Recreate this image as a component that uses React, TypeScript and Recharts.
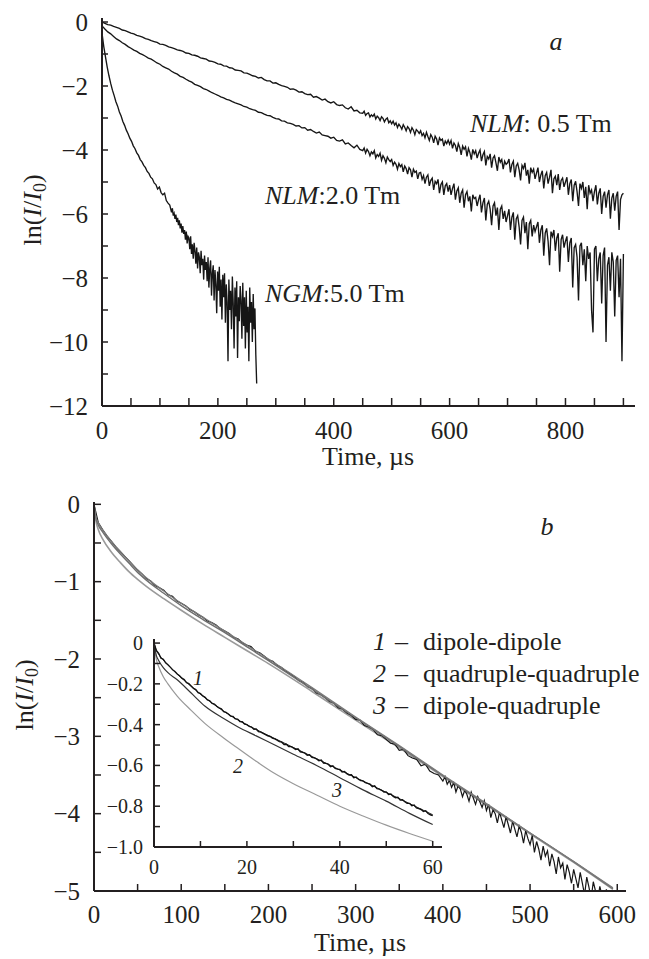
import { LineChart, Line, XAxis, YAxis } from 'recharts'

// ---- panel a: ln(I/I0) decays
// head parts every 5 us (NGM every 3 us), noisy tails sampled finer
const stepA = 5
const tailStartA = 450
const tailStepA = 2.5

const nlm05 = [
  0.00, -0.04, -0.08, -0.10, -0.14, -0.17, -0.20, -0.25, -0.27, -0.31,
  -0.35, -0.37, -0.42, -0.44, -0.47, -0.52, -0.54, -0.58, -0.61, -0.64,
  -0.69, -0.70, -0.73, -0.78, -0.80, -0.83, -0.87, -0.89, -0.92, -0.97,
  -0.98, -1.03, -1.04, -1.07, -1.12, -1.14, -1.16, -1.22, -1.23, -1.26,
  -1.31, -1.32, -1.37, -1.38, -1.43, -1.44, -1.50, -1.51, -1.53, -1.59,
  -1.60, -1.64, -1.68, -1.70, -1.75, -1.73, -1.80, -1.84, -1.84, -1.91,
  -1.90, -1.95, -1.99, -2.01, -2.04, -2.10, -2.09, -2.13, -2.19, -2.18,
  -2.24, -2.27, -2.26, -2.35, -2.33, -2.38, -2.44, -2.41, -2.49, -2.53,
  -2.49, -2.58, -2.61, -2.59, -2.68, -2.72, -2.65, -2.78, -2.76, -2.84,
]
const nlm05Tail = [
  -2.85, -2.79, -2.92, -2.86, -2.84, -2.97, -2.90, -2.95, -2.88, -3.03, -2.94, -2.99, -3.08, -2.96, -3.01, -3.12, -3.04, -3.00, -3.15, -3.09,
  -3.18, -3.10, -3.22, -3.15, -3.30, -3.19, -3.26, -3.35, -3.21, -3.29, -3.40, -3.27, -3.33, -3.45, -3.30, -3.38, -3.52, -3.36, -3.41, -3.48,
  -3.40, -3.55, -3.48, -3.62, -3.45, -3.58, -3.70, -3.52, -3.60, -3.78, -3.57, -3.65, -3.85, -3.62, -3.70, -3.66, -3.88, -3.72, -3.80, -3.69,
  -3.82, -3.70, -3.95, -3.78, -3.86, -4.05, -3.80, -3.92, -4.15, -3.88, -3.98, -3.90, -4.20, -3.95, -4.08, -4.30, -3.98, -4.12, -4.02, -4.25,
  -4.10, -4.00, -4.35, -4.15, -4.05, -4.48, -4.20, -4.28, -4.12, -4.55, -4.25, -4.18, -4.40, -4.65, -4.22, -4.38, -4.30, -4.60, -4.35, -4.45,
  -4.40, -4.28, -4.70, -4.45, -4.35, -4.85, -4.50, -4.42, -4.62, -4.95, -4.48, -4.58, -4.40, -4.80, -4.62, -5.05, -4.55, -4.70, -4.60, -4.90,
  -4.72, -4.55, -5.00, -4.78, -4.65, -5.20, -4.80, -4.70, -5.05, -4.85, -4.62, -5.35, -4.90, -4.82, -5.10, -4.75, -5.25, -4.95, -4.88, -5.15,
  -5.00, -4.85, -5.40, -5.05, -4.92, -5.60, -5.10, -4.98, -5.30, -5.75, -5.05, -5.20, -5.00, -5.50, -5.15, -5.85, -5.10, -5.35, -5.25, -5.60,
  -5.30, -5.10, -5.70, -5.35, -5.20, -6.00, -5.45, -5.30, -5.80, -5.40, -5.25, -6.15, -5.50, -5.35, -5.90, -5.45, -5.30, -6.50, -5.55, -5.40,
  -5.35,
]

const nlm20 = [
  -0.12, -0.22, -0.31, -0.37, -0.45, -0.53, -0.58, -0.65, -0.70, -0.77,
  -0.82, -0.88, -0.92, -0.98, -1.02, -1.07, -1.13, -1.16, -1.22, -1.28,
  -1.32, -1.39, -1.43, -1.47, -1.54, -1.59, -1.63, -1.70, -1.73, -1.79,
  -1.84, -1.88, -1.95, -1.98, -2.02, -2.08, -2.11, -2.16, -2.21, -2.25,
  -2.29, -2.34, -2.37, -2.42, -2.44, -2.49, -2.53, -2.56, -2.59, -2.64,
  -2.66, -2.71, -2.74, -2.76, -2.82, -2.83, -2.88, -2.92, -2.93, -2.98,
  -3.02, -3.03, -3.09, -3.10, -3.15, -3.17, -3.20, -3.25, -3.24, -3.31,
  -3.30, -3.38, -3.36, -3.42, -3.47, -3.44, -3.53, -3.55, -3.57, -3.63,
  -3.60, -3.70, -3.72, -3.68, -3.81, -3.78, -3.86, -3.93, -3.85, -3.98,
]
const nlm20Tail = [
  -4.02, -3.94, -4.10, -3.98, -4.05, -4.18, -4.06, -4.12, -4.02, -4.25, -4.14, -4.20, -4.10, -4.32, -4.18, -4.26, -4.40, -4.22, -4.30, -4.36,
  -4.30, -4.48, -4.38, -4.45, -4.60, -4.42, -4.52, -4.46, -4.68, -4.50, -4.58, -4.75, -4.55, -4.62, -4.85, -4.60, -4.70, -4.66, -4.90, -4.72,
  -4.70, -4.92, -4.80, -5.05, -4.85, -4.78, -5.12, -4.95, -4.88, -5.25, -4.98, -5.05, -4.92, -5.35, -5.08, -5.00, -5.40, -5.12, -5.05, -5.30,
  -5.10, -5.40, -5.20, -5.05, -5.55, -5.28, -5.18, -5.65, -5.35, -5.25, -5.80, -5.40, -5.30, -5.60, -5.45, -5.92, -5.40, -5.52, -5.48, -5.75,
  -5.55, -5.40, -5.95, -5.65, -5.50, -6.20, -5.70, -5.60, -5.85, -6.35, -5.75, -5.65, -6.05, -5.80, -6.50, -5.85, -5.75, -6.15, -5.90, -6.25,
  -6.05, -5.85, -6.50, -6.10, -5.95, -6.80, -6.15, -6.05, -6.40, -6.95, -6.20, -6.10, -6.60, -6.25, -7.10, -6.30, -6.20, -6.70, -6.35, -6.55,
  -6.40, -6.25, -6.90, -6.50, -6.35, -7.30, -6.60, -6.45, -6.85, -7.60, -6.55, -6.70, -6.50, -7.15, -6.75, -6.60, -7.80, -6.80, -6.65, -7.05,
  -6.85, -6.70, -7.50, -6.90, -6.75, -8.30, -7.05, -6.95, -7.35, -8.70, -7.00, -6.90, -7.60, -7.10, -8.10, -7.00, -7.40, -7.20, -9.00, -9.70,
  -7.10, -7.00, -8.10, -7.40, -7.20, -8.80, -7.30, -7.05, -10.00, -7.60, -7.35, -8.40, -7.20, -7.50, -9.20, -7.45, -7.30, -8.60, -7.40, -10.60,
  -7.25,
]

const stepNgm = 3
const tailStartNgm = 120
const tailStepNgm = 1.5
const ngm50 = [
  -0.35, -0.76, -1.09, -1.41, -1.68, -1.92, -2.13, -2.30, -2.49, -2.63,
  -2.81, -2.94, -3.11, -3.23, -3.38, -3.49, -3.63, -3.73, -3.87, -3.96,
  -4.09, -4.17, -4.30, -4.37, -4.48, -4.55, -4.67, -4.73, -4.85, -4.90,
  -5.03, -5.08, -5.22, -5.16, -5.33, -5.40, -5.35, -5.58, -5.66, -5.72,
]
const ngm50Tail = [
  -5.95, -5.82, -6.05, -5.98, -6.15, -6.02, -6.25, -6.12, -6.35, -6.20, -6.45, -6.30, -6.58, -6.38, -6.62, -6.50, -6.80, -6.55, -6.92, -6.70,
  -6.75, -7.10, -6.70, -7.25, -6.95, -7.40, -6.90, -7.15, -7.55, -7.05, -7.70, -7.20, -7.35, -7.85, -7.15, -7.60, -7.40, -8.05, -7.30, -7.75,
  -7.50, -8.10, -7.35, -8.30, -7.70, -7.45, -8.55, -7.85, -7.60, -8.70, -7.75, -8.20, -9.10, -7.80, -8.40, -7.65, -8.90, -8.05, -9.30, -7.90,
  -8.60, -7.85, -9.40, -8.20, -8.75, -10.60, -8.05, -9.00, -8.40, -9.60, -7.95, -8.80, -10.20, -8.30, -9.20, -8.10, -10.50, -8.60, -9.35, -8.25,
  -8.70, -9.90, -8.15, -9.50, -8.60, -10.20, -8.40, -9.70, -8.90, -10.60, -8.30, -9.40, -8.75, -10.00, -8.50, -9.60, -8.95, -10.40, -11.30,
]

// ---- panel b: measured decay and the three model fits
const stepB = 5
const tailStartB = 400
const tailStepB = 2.5
const decayB = [
  0.00, -0.24, -0.33, -0.41, -0.48, -0.55, -0.61, -0.67, -0.73, -0.79,
  -0.85, -0.90, -0.96, -0.99, -1.05, -1.08, -1.11, -1.17, -1.19, -1.25,
  -1.28, -1.31, -1.36, -1.39, -1.43, -1.46, -1.51, -1.53, -1.56, -1.61,
  -1.64, -1.67, -1.72, -1.74, -1.79, -1.82, -1.84, -1.90, -1.92, -1.96,
  -2.01, -2.03, -2.08, -2.11, -2.16, -2.19, -2.23, -2.28, -2.30, -2.36,
  -2.38, -2.44, -2.46, -2.50, -2.55, -2.57, -2.63, -2.65, -2.70, -2.73,
  -2.78, -2.79, -2.86, -2.88, -2.91, -2.98, -2.99, -3.04, -3.09, -3.10,
  -3.18, -3.17, -3.25, -3.28, -3.30, -3.38, -3.36, -3.45, -3.48, -3.50,
]
const decayBTail = [
  -3.58, -3.52, -3.62, -3.57, -3.66, -3.60, -3.72, -3.64, -3.68, -3.78, -3.70, -3.75, -3.84, -3.72, -3.80, -3.88, -3.78, -3.85, -3.92, -3.83,
  -3.96, -3.88, -4.05, -3.95, -4.00, -4.12, -3.98, -4.08, -4.18, -4.04, -4.14, -4.25, -4.10, -4.20, -4.30, -4.16, -4.24, -4.38, -4.22, -4.32,
  -4.40, -4.28, -4.50, -4.36, -4.46, -4.60, -4.42, -4.55, -4.48, -4.68, -4.52, -4.62, -4.78, -4.56, -4.70, -4.64, -4.85, -4.66, -4.76, -4.90,
  -4.72, -4.84, -4.96, -4.76, -4.90, -5.05, -4.82, -4.95, -5.10, -4.88, -5.00, -5.12, -4.94, -5.06, -5.15, -4.98, -5.10,
]

const fitTimeB = [0, 2, 5, 10, 20, 30, 40, 50, 60, 80, 100, 125, 150, 175, 200, 250, 300, 350, 400, 450, 500, 550, 595]
const fitDipDip = [0, -0.15, -0.24, -0.33, -0.48, -0.61, -0.73, -0.85, -0.95, -1.12, -1.28, -1.46, -1.64, -1.82, -2.0, -2.37, -2.75, -3.12, -3.5, -3.87, -4.25, -4.62, -4.96]
const fitQuadQuad = [0, -0.2, -0.33, -0.45, -0.62, -0.75, -0.87, -0.97, -1.06, -1.22, -1.37, -1.55, -1.72, -1.89, -2.06, -2.42, -2.79, -3.15, -3.52, -3.89, -4.26, -4.63, -4.98]
const fitDipQuad = [0, -0.17, -0.27, -0.36, -0.51, -0.64, -0.76, -0.88, -0.98, -1.15, -1.31, -1.49, -1.66, -1.84, -2.02, -2.39, -2.76, -3.13, -3.51, -3.88, -4.25, -4.62, -4.97]

// ---- inset: first 60 us, every 0.5 us
const stepInset = 0.5
const insetDecay = [
  0.000, -0.036, -0.050, -0.074, -0.079, -0.097, -0.106, -0.118, -0.131, -0.139,
  -0.152, -0.160, -0.172, -0.179, -0.194, -0.199, -0.210, -0.222, -0.228, -0.243,
  -0.248, -0.259, -0.266, -0.279, -0.283, -0.296, -0.299, -0.310, -0.318, -0.322,
  -0.336, -0.340, -0.348, -0.358, -0.360, -0.372, -0.373, -0.385, -0.386, -0.397,
  -0.400, -0.409, -0.412, -0.423, -0.421, -0.434, -0.437, -0.443, -0.449, -0.455,
  -0.458, -0.466, -0.470, -0.476, -0.483, -0.486, -0.497, -0.496, -0.507, -0.508,
  -0.514, -0.522, -0.519, -0.533, -0.536, -0.540, -0.550, -0.548, -0.561, -0.563,
  -0.568, -0.577, -0.574, -0.588, -0.590, -0.594, -0.606, -0.602, -0.615, -0.618,
  -0.620, -0.632, -0.630, -0.640, -0.647, -0.646, -0.660, -0.657, -0.668, -0.674,
  -0.676, -0.684, -0.688, -0.692, -0.704, -0.700, -0.714, -0.716, -0.722, -0.731,
  -0.730, -0.742, -0.740, -0.752, -0.758, -0.756, -0.770, -0.768, -0.778, -0.786,
  -0.786, -0.797, -0.794, -0.808, -0.812, -0.816, -0.826, -0.822, -0.836, -0.842,
  -0.846,
]
const fitTimeInset = [0, 0.5, 1, 2, 3, 5, 8, 11, 15, 18, 22, 26, 30, 35, 40, 45, 50, 55, 60]
const insetDipDip = [0, -0.035, -0.055, -0.083, -0.107, -0.152, -0.212, -0.268, -0.334, -0.376, -0.424, -0.468, -0.512, -0.567, -0.622, -0.677, -0.732, -0.787, -0.842]
const insetDipQuad = [0, -0.06, -0.085, -0.12, -0.145, -0.18, -0.245, -0.31, -0.37, -0.41, -0.455, -0.5, -0.545, -0.6, -0.66, -0.72, -0.775, -0.835, -0.89]
const insetQuadQuad = [0, -0.08, -0.115, -0.165, -0.2, -0.26, -0.33, -0.395, -0.465, -0.515, -0.58, -0.64, -0.69, -0.745, -0.8, -0.848, -0.893, -0.934, -0.972]

// ticks
const xTicksA = [0, 50, 100, 150, 200, 250, 300, 350, 400, 450, 500, 550, 600, 650, 700, 750, 800, 850, 900]
const xLabelsA = [0, 200, 400, 600, 800]
const yTicksA = [0, -1, -2, -3, -4, -5, -6, -7, -8, -9, -10, -11, -12]
const yLabelsA = [0, -2, -4, -6, -8, -10, -12]
const xTicksB = [0, 50, 100, 150, 200, 250, 300, 350, 400, 450, 500, 550, 600]
const xLabelsB = [0, 100, 200, 300, 400, 500, 600]
const yTicksB = [0, -0.5, -1, -1.5, -2, -2.5, -3, -3.5, -4, -4.5, -5]
const yLabelsB = [0, -1, -2, -3, -4, -5]
const xTicksI = [0, 10, 20, 30, 40, 50, 60]
const xLabelsI = [0, 20, 40, 60]
const yTicksI = [0, -0.1, -0.2, -0.3, -0.4, -0.5, -0.6, -0.7, -0.8, -0.9, -1]
const yLabelsI = [0, -0.2, -0.4, -0.6, -0.8, -1]

const FONT = "'Liberation Serif', 'Times New Roman', serif"
const INK = '#231f20'

const toSeries = (vals: number[], step: number, start = 0) => vals.map((v, i) => ({ t: start + i * step, v }))
const pair = (ts: number[], vs: number[]) => ts.map((t, i) => ({ t, v: vs[i] }))

const seriesA05 = [...toSeries(nlm05, stepA), ...toSeries(nlm05Tail, tailStepA, tailStartA)]
const seriesA20 = [...toSeries(nlm20, stepA), ...toSeries(nlm20Tail, tailStepA, tailStartA)]
const seriesA50 = [...toSeries(ngm50, stepNgm), ...toSeries(ngm50Tail, tailStepNgm, tailStartNgm)]
const seriesB = [...toSeries(decayB, stepB), ...toSeries(decayBTail, tailStepB, tailStartB)]

const fmt = (v: number, digits = 0) => {
  if (v === 0) return '0'
  const s = Math.abs(v).toFixed(digits)
  return v < 0 ? '\u2212' + s : s
}

// inward ticks, labels only on the listed values
const xTick = (labels: number[], len: number, size: number, gap: number) => (props: any) => {
  const { x, y, payload } = props
  return (
    <g>
      <line x1={x} y1={y} x2={x} y2={y - len} stroke={INK} strokeWidth={1.5} />
      {labels.includes(payload.value) && (
        <text x={x} y={y + gap} textAnchor="middle" fontSize={size} fontFamily={FONT} fill={INK}>
          {fmt(payload.value)}
        </text>
      )}
    </g>
  )
}

const yTick = (labels: number[], len: number, size: number, gap: number, digits = 0) => (props: any) => {
  const { x, y, payload } = props
  return (
    <g>
      <line x1={x} y1={y} x2={x + len} y2={y} stroke={INK} strokeWidth={1.5} />
      {labels.includes(payload.value) && (
        <text x={x - gap} y={y} dy="0.35em" textAnchor="end" fontSize={size} fontFamily={FONT} fill={INK}>
          {fmt(payload.value, digits)}
        </text>
      )}
    </g>
  )
}

const axisLine = { stroke: INK, strokeWidth: 2 }

const yLabel = (x: number, y: number) => (
  <text transform={`translate(${x},${y}) rotate(-90)`} textAnchor="middle" fontSize={26}>
    ln(<tspan fontStyle="italic">I</tspan>/<tspan fontStyle="italic">I</tspan>
    <tspan fontSize={18} dy={5}>0</tspan><tspan dy={-5}>)</tspan>
  </text>
)

export default function App() {
  return (
    <div style={{ position: 'absolute', left: 0, top: 0, width: 649, height: 959, background: '#fff' }}>
      <div style={{ position: 'absolute', left: 0, top: 0 }}>
        <LineChart width={649} height={480} margin={{ top: 18, right: 14, bottom: 73, left: 101 }}>
          <XAxis type="number" dataKey="t" domain={[0, 920]} ticks={xTicksA} interval={0} height={1}
            tickSize={0} tickMargin={0} tickLine={false} axisLine={axisLine} tick={xTick(xLabelsA, 8, 25, 33)} />
          <YAxis type="number" domain={[-12, 0.125]} ticks={yTicksA} interval={0} width={1} allowDataOverflow
            tickSize={0} tickMargin={0} tickLine={false} axisLine={axisLine} tick={yTick(yLabelsA, 6, 25, 14)} />
          <Line data={seriesA05} dataKey="v" type="linear" stroke="#161616" strokeWidth={1.35} dot={false} isAnimationActive={false} />
          <Line data={seriesA20} dataKey="v" type="linear" stroke="#161616" strokeWidth={1.35} dot={false} isAnimationActive={false} />
          <Line data={seriesA50} dataKey="v" type="linear" stroke="#161616" strokeWidth={1.35} dot={false} isAnimationActive={false} />
        </LineChart>
      </div>

      <div style={{ position: 'absolute', left: 0, top: 480 }}>
        <LineChart width={649} height={479} margin={{ top: 22, right: 23, bottom: 67, left: 93 }}>
          <XAxis type="number" dataKey="t" domain={[0, 610]} ticks={xTicksB} interval={0} height={1}
            tickSize={0} tickMargin={0} tickLine={false} axisLine={axisLine} tick={xTick(xLabelsB, 7, 25, 32)} />
          <YAxis type="number" domain={[-5, 0.03]} ticks={yTicksB} interval={0} width={1} allowDataOverflow
            tickSize={0} tickMargin={0} tickLine={false} axisLine={axisLine} tick={yTick(yLabelsB, 7, 25, 14)} />
          <Line data={pair(fitTimeB, fitQuadQuad)} dataKey="v" type="monotone" stroke="#9a9a9a" strokeWidth={1.6} dot={false} isAnimationActive={false} />
          <Line data={seriesB} dataKey="v" type="linear" stroke="#161616" strokeWidth={1.2} dot={false} isAnimationActive={false} />
          <Line data={pair(fitTimeB, fitDipQuad)} dataKey="v" type="monotone" stroke="#6e6e6e" strokeWidth={1.4} dot={false} isAnimationActive={false} />
          <Line data={pair(fitTimeB, fitDipDip)} dataKey="v" type="monotone" stroke="#7a7a7a" strokeWidth={1.3} dot={false} isAnimationActive={false} />
        </LineChart>
      </div>

      <div style={{ position: 'absolute', left: 100, top: 600 }}>
        <LineChart width={360} height={300} margin={{ top: 39, right: 18, bottom: 52, left: 53 }}>
          <XAxis type="number" dataKey="t" domain={[0, 62]} ticks={xTicksI} interval={0} height={1}
            tickSize={0} tickMargin={0} tickLine={false} axisLine={axisLine} tick={xTick(xLabelsI, 6, 20, 27)} />
          <YAxis type="number" domain={[-1, 0.02]} ticks={yTicksI} interval={0} width={1} allowDataOverflow
            tickSize={0} tickMargin={0} tickLine={false} axisLine={axisLine} tick={yTick(yLabelsI, 6, 20, 11, 1)} />
          <Line data={pair(fitTimeInset, insetQuadQuad)} dataKey="v" type="monotone" stroke="#999" strokeWidth={1.2} dot={false} isAnimationActive={false} />
          <Line data={pair(fitTimeInset, insetDipQuad)} dataKey="v" type="monotone" stroke="#333" strokeWidth={1.2} dot={false} isAnimationActive={false} />
          <Line data={pair(fitTimeInset, insetDipDip)} dataKey="v" type="monotone" stroke="#222" strokeWidth={1} dot={false} isAnimationActive={false} />
          <Line data={toSeries(insetDecay, stepInset)} dataKey="v" type="linear" stroke="#111" strokeWidth={1.4} dot={false} isAnimationActive={false} />
        </LineChart>
      </div>

      <svg width={649} height={959} style={{ position: 'absolute', left: 0, top: 0, pointerEvents: 'none' }}
        fontFamily={FONT} fill={INK}>
        {/* panel a */}
        <text x={556} y={50} fontSize={26} fontStyle="italic" textAnchor="middle">a</text>
        <text x={470} y={132} fontSize={26}><tspan fontStyle="italic">NLM</tspan>: 0.5 Tm</text>
        <text x={265} y={204} fontSize={26}><tspan fontStyle="italic">NLM</tspan>:2.0 Tm</text>
        <text x={265} y={302} fontSize={26}><tspan fontStyle="italic">NGM</tspan>:5.0 Tm</text>
        {yLabel(41, 210)}
        <text x={368} y={465} fontSize={26} textAnchor="middle">Time, µs</text>

        {/* panel b */}
        <text x={547} y={535} fontSize={26} fontStyle="italic" textAnchor="middle">b</text>
        <text x={373} y={650} fontSize={26} fontStyle="italic">1</text>
        <text x={395} y={650} fontSize={26}>–</text>
        <text x={423} y={650} fontSize={26}>dipole-dipole</text>
        <text x={373} y={682} fontSize={26} fontStyle="italic">2</text>
        <text x={395} y={682} fontSize={26}>–</text>
        <text x={423} y={682} fontSize={26}>quadruple-quadruple</text>
        <text x={373} y={714} fontSize={26} fontStyle="italic">3</text>
        <text x={395} y={714} fontSize={26}>–</text>
        <text x={423} y={714} fontSize={26}>dipole-quadruple</text>
        <text x={198} y={685} fontSize={20} fontStyle="italic" textAnchor="middle">1</text>
        <text x={238} y={773} fontSize={20} fontStyle="italic" textAnchor="middle">2</text>
        <text x={337} y={797} fontSize={20} fontStyle="italic" textAnchor="middle">3</text>
        {yLabel(33, 695)}
        <text x={360} y={951} fontSize={26} textAnchor="middle">Time, µs</text>
      </svg>
    </div>
  )
}
